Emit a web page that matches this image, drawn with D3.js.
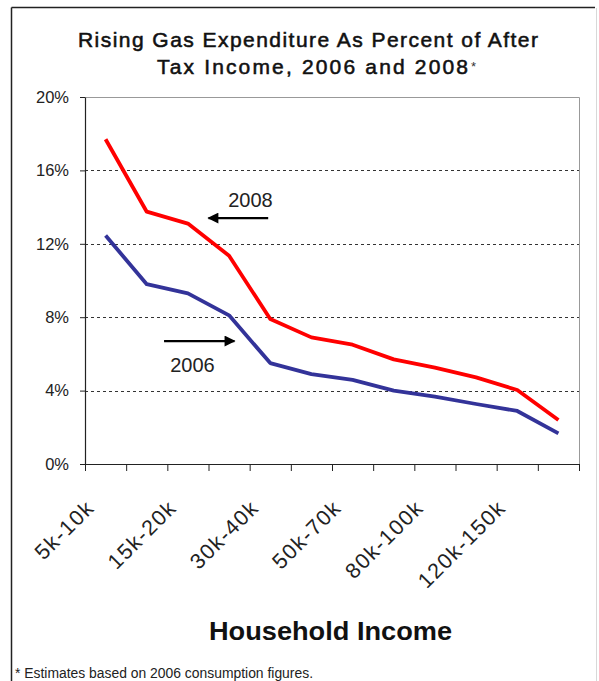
<!DOCTYPE html>
<html>
<head>
<meta charset="utf-8">
<script src="https://cdn.jsdelivr.net/npm/d3@7"></script>
<style>
  html, body { margin: 0; padding: 0; background: #fff; }
  svg { display: block; font-family: "Liberation Sans", Arial, sans-serif; }
</style>
</head>
<body>
<svg id="chart" width="599" height="681"></svg>
<script>
// Household income brackets (every other one is labelled on the axis)
const categories = ["5k-10k", "10k-15k", "15k-20k", "20k-30k", "30k-40k", "40k-50k",
                    "50k-70k", "70k-80k", "80k-100k", "100k-120k", "120k-150k", "150k+"];
const shownLabels = ["5k-10k", "15k-20k", "30k-40k", "50k-70k", "80k-100k", "120k-150k"];

// Gas expenditure as percent of after-tax income
const values2008 = [17.7, 13.75, 13.1, 11.35, 7.9, 6.9, 6.5, 5.7, 5.25, 4.72, 4.03, 2.4];
const values2006 = [12.45, 9.8, 9.3, 8.1, 5.5, 4.9, 4.58, 4.0, 3.67, 3.27, 2.89, 1.67];

const yTicks = [0, 4, 8, 12, 16, 20];
const gridTicks = [4, 8, 12, 16];

const svg = d3.select("#chart");

const plot = { left: 85, right: 579, top: 97, bottom: 464 };

const x = d3.scaleBand().domain(categories).range([plot.left, plot.right]).padding(0);
const xIdx = d3.scaleLinear().domain([0, categories.length]).range([plot.left, plot.right]);
const y = d3.scaleLinear().domain([0, 20]).range([plot.bottom, plot.top]);
const cx = c => x(c) + x.bandwidth() / 2;

// outer frame
svg.append("line").attr("x1", 11.5).attr("y1", 7.5).attr("x2", 595).attr("y2", 7.5)
  .attr("stroke", "#222").attr("stroke-width", 1.5);
svg.append("line").attr("x1", 11.5).attr("y1", 7.5).attr("x2", 11.5).attr("y2", 681)
  .attr("stroke", "#222").attr("stroke-width", 1.5);
svg.append("line").attr("x1", 596.5).attr("y1", 8).attr("x2", 596.5).attr("y2", 681)
  .attr("stroke", "#d8d8d8").attr("stroke-width", 1);

// title
const title = svg.append("g").attr("font-size", 21).attr("fill", "#111")
  .attr("stroke", "#111").attr("stroke-width", 0.55);
title.append("text").attr("x", 78).attr("y", 47)
  .attr("textLength", 460).attr("lengthAdjust", "spacing")
  .text("Rising Gas Expenditure As Percent of After");
title.append("text").attr("x", 157).attr("y", 74)
  .attr("textLength", 311).attr("lengthAdjust", "spacing")
  .text("Tax Income, 2006 and 2008");
svg.append("text").attr("x", 471).attr("y", 71).attr("font-size", 13).attr("fill", "#333").text("*");

// plot border (top and right)
svg.append("path")
  .attr("d", `M${plot.left},${plot.top + 0.5}H${plot.right + 0.5}V${plot.bottom}`)
  .attr("fill", "none").attr("stroke", "#999").attr("stroke-width", 1);

// dashed gridlines
svg.append("g").selectAll("line").data(gridTicks).join("line")
  .attr("x1", plot.left).attr("x2", plot.right)
  .attr("y1", d => Math.round(y(d)) + 0.5).attr("y2", d => Math.round(y(d)) + 0.5)
  .attr("stroke", "#333").attr("stroke-width", 1).attr("stroke-dasharray", "3,3");

// y axis
const yAxis = svg.append("g").attr("transform", `translate(${plot.left},0)`)
  .call(d3.axisLeft(y).tickValues(yTicks).tickFormat(d => d + "%").tickSize(5).tickSizeOuter(0));
yAxis.select(".domain").attr("stroke", "#222").attr("stroke-width", 1.2);
yAxis.selectAll(".tick line").attr("stroke", "#222");
yAxis.selectAll("text").attr("font-size", 16.5).attr("fill", "#222").attr("x", -16)
  .attr("font-family", "Liberation Sans, Arial, sans-serif");

// x axis: ticks on band boundaries
const xAxis = svg.append("g").attr("transform", `translate(0,${plot.bottom})`)
  .call(d3.axisBottom(xIdx).tickValues(d3.range(categories.length + 1)).tickFormat("").tickSize(7).tickSizeOuter(0));
xAxis.select(".domain").attr("stroke", "#222").attr("stroke-width", 1.2);
xAxis.selectAll(".tick line").attr("stroke", "#222");

// rotated category labels
svg.append("g").selectAll("text").data(shownLabels).join("text")
  .attr("transform", d => `translate(${cx(d) - 10},${plot.bottom + 45}) rotate(-45)`)
  .attr("text-anchor", "end")
  .attr("font-size", 21.5).attr("letter-spacing", 1.5).attr("fill", "#222")
  .text(d => d);

// axis title
svg.append("text").attr("x", 209).attr("y", 640)
  .attr("font-size", 25).attr("font-weight", "bold").attr("fill", "#111")
  .attr("textLength", 243).attr("lengthAdjust", "spacingAndGlyphs")
  .text("Household Income");

// footnote
svg.append("text").attr("x", 15).attr("y", 678)
  .attr("font-size", 14).attr("fill", "#222")
  .attr("textLength", 298).attr("lengthAdjust", "spacingAndGlyphs")
  .text("* Estimates based on 2006 consumption figures.");

// series lines
const line = d3.line().x((d, i) => cx(categories[i])).y(d => y(d));
svg.append("path").datum(values2006).attr("d", line)
  .attr("fill", "none").attr("stroke", "#333399").attr("stroke-width", 3.8)
  .attr("stroke-linejoin", "round");
svg.append("path").datum(values2008).attr("d", line)
  .attr("fill", "none").attr("stroke", "#ff0000").attr("stroke-width", 3.8)
  .attr("stroke-linejoin", "round");

// annotation arrows
svg.append("defs").append("marker")
  .attr("id", "head").attr("viewBox", "0 0 10 10").attr("refX", 9).attr("refY", 5)
  .attr("markerWidth", 5.5).attr("markerHeight", 5).attr("orient", "auto")
  .attr("markerUnits", "strokeWidth")
  .append("path").attr("d", "M0,0L10,5L0,10Z").attr("fill", "#000");

const annotations = [
  { label: "2008", from: [4.45, 13.4], to: [3.0, 13.4], text: [4.02, 14.0] },
  { label: "2006", from: [1.92, 6.7], to: [3.63, 6.7], text: [2.61, 5.0] }
];
annotations.forEach(a => {
  svg.append("line")
    .attr("x1", xIdx(a.from[0])).attr("y1", y(a.from[1]))
    .attr("x2", xIdx(a.to[0])).attr("y2", y(a.to[1]))
    .attr("stroke", "#000").attr("stroke-width", 2.2).attr("marker-end", "url(#head)");
  svg.append("text").attr("x", xIdx(a.text[0])).attr("y", y(a.text[1]))
    .attr("text-anchor", "middle").attr("font-size", 20).attr("fill", "#222")
    .text(a.label);
});
</script>
</body>
</html>
